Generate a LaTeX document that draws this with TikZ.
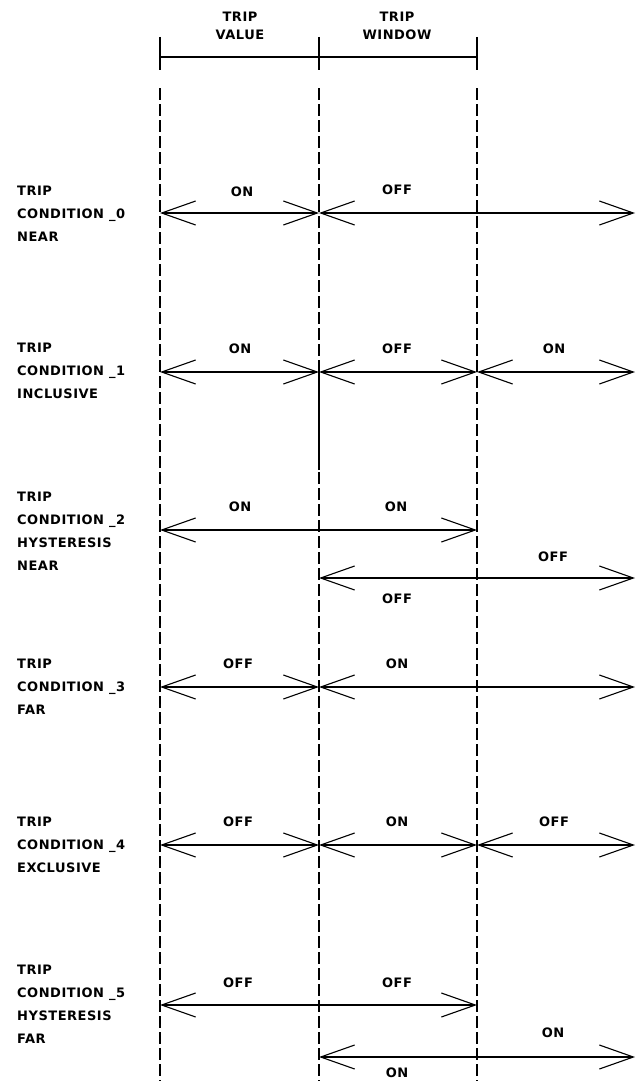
\documentclass[tikz,border=0pt]{standalone}
\usepackage{fontspec}
\newfontfamily\tripfont[LetterSpace=4]{DejaVu Sans}
\usetikzlibrary{arrows.meta}
\tikzset{%
    Trip label/.style={%
        font=\tripfont\bfseries\fontsize{13}{23}\selectfont,
        align=left,
        anchor=west,
        inner sep=0pt
    },
    Trip state/.style={%
        font=\tripfont\bfseries\fontsize{13}{18}\selectfont,
        align=center,
        inner sep=0pt
    },
    Trip arrow/.style={%
        {Straight Barb[length=34pt,width=24pt]}-{Straight Barb[length=34pt,width=24pt]},
        line width=1.1pt
    },
    Trip guide/.style={%
        dash pattern=on 12pt off 4pt,
        line width=1.1pt
    }
}

\begin{document}
\begin{tikzpicture}[x=1pt,y=-1pt]
\useasboundingbox (0,0) rectangle (643,1081);

% entete
\coordinate (V) at (160,57) ;
\coordinate (W) at (319,57) ;
\coordinate (X) at (477,57) ;
\draw[line width=1.1pt] (V) -- (X) ;
\foreach \p in {V,W,X}
    \draw[line width=1.1pt] ([yshift=20pt]\p) -- ([yshift=-13pt]\p) ;
\node[Trip state] (HV) at (240,26) {TRIP\\VALUE};
\node[Trip state] (HW) at (397,26) {TRIP\\WINDOW};

% guides
\foreach \p/\x in {V/160,W/319,X/477}{%
    \coordinate (\p top) at (\x,88) ;
    \coordinate (\p bot) at (\x,1081) ;
    \draw[Trip guide] (\p top) -- (\p bot) ;
}
\coordinate (Ws) at (319,372) ;
\coordinate (We) at (319,470) ;
\draw[line width=1.1pt] (Ws) -- (We) ;

% condition 0
\node[Trip label] (C0) at (17,214) {TRIP\\CONDITION \_0\\NEAR};
\coordinate (C0a) at (160,213) ;
\coordinate (C0b) at (319,213) ;
\coordinate (C0d) at (635,213) ;
\draw[Trip arrow] (C0a) -- (C0b) ;
\draw[Trip arrow] (C0b) -- (C0d) ;
\node[Trip state] (S0a) at (242,192) {ON};
\node[Trip state] (S0b) at (397,190) {OFF};

% condition 1
\node[Trip label] (C1) at (17,371) {TRIP\\CONDITION \_1\\INCLUSIVE};
\coordinate (C1a) at (160,372) ;
\coordinate (C1b) at (319,372) ;
\coordinate (C1c) at (477,372) ;
\coordinate (C1d) at (635,372) ;
\draw[Trip arrow] (C1a) -- (C1b) ;
\draw[Trip arrow] (C1b) -- (C1c) ;
\draw[Trip arrow] (C1c) -- (C1d) ;
\node[Trip state] (S1a) at (240,349) {ON};
\node[Trip state] (S1b) at (397,349) {OFF};
\node[Trip state] (S1c) at (554,349) {ON};

% condition 2
\node[Trip label] (C2) at (17,531) {TRIP\\CONDITION \_2\\HYSTERESIS\\NEAR};
\coordinate (C2a) at (160,530) ;
\coordinate (C2c) at (477,530) ;
\coordinate (C2e) at (319,578) ;
\coordinate (C2f) at (635,578) ;
\draw[Trip arrow] (C2a) -- (C2c) ;
\draw[Trip arrow] (C2e) -- (C2f) ;
\node[Trip state] (S2a) at (240,507) {ON};
\node[Trip state] (S2b) at (396,507) {ON};
\node[Trip state] (S2c) at (553,557) {OFF};
\node[Trip state] (S2d) at (397,599) {OFF};

% condition 3
\node[Trip label] (C3) at (17,687) {TRIP\\CONDITION \_3\\FAR};
\coordinate (C3a) at (160,687) ;
\coordinate (C3b) at (319,687) ;
\coordinate (C3d) at (635,687) ;
\draw[Trip arrow] (C3a) -- (C3b) ;
\draw[Trip arrow] (C3b) -- (C3d) ;
\node[Trip state] (S3a) at (238,664) {OFF};
\node[Trip state] (S3b) at (397,664) {ON};

% condition 4
\node[Trip label] (C4) at (17,845) {TRIP\\CONDITION \_4\\EXCLUSIVE};
\coordinate (C4a) at (160,845) ;
\coordinate (C4b) at (319,845) ;
\coordinate (C4c) at (477,845) ;
\coordinate (C4d) at (635,845) ;
\draw[Trip arrow] (C4a) -- (C4b) ;
\draw[Trip arrow] (C4b) -- (C4c) ;
\draw[Trip arrow] (C4c) -- (C4d) ;
\node[Trip state] (S4a) at (238,822) {OFF};
\node[Trip state] (S4b) at (397,822) {ON};
\node[Trip state] (S4c) at (554,822) {OFF};

% condition 5
\node[Trip label] (C5) at (17,1004) {TRIP\\CONDITION \_5\\HYSTERESIS\\FAR};
\coordinate (C5a) at (160,1005) ;
\coordinate (C5c) at (477,1005) ;
\coordinate (C5e) at (319,1057) ;
\coordinate (C5f) at (635,1057) ;
\draw[Trip arrow] (C5a) -- (C5c) ;
\draw[Trip arrow] (C5e) -- (C5f) ;
\node[Trip state] (S5a) at (238,983) {OFF};
\node[Trip state] (S5b) at (397,983) {OFF};
\node[Trip state] (S5c) at (553,1033) {ON};
\node[Trip state] (S5d) at (397,1073) {ON};

\end{tikzpicture}
\end{document}
